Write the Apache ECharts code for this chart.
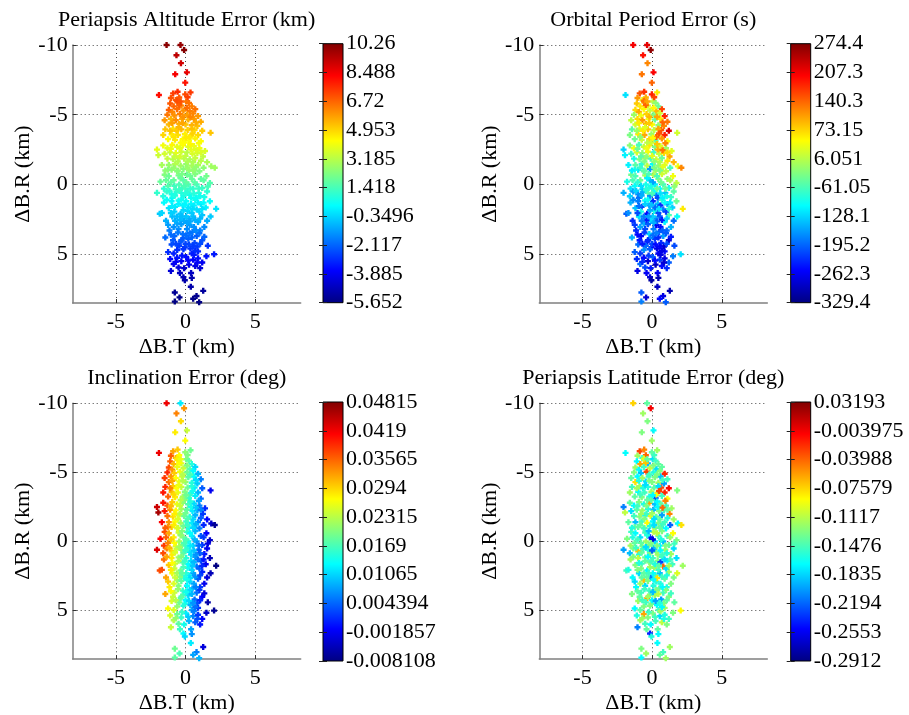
<!DOCTYPE html>
<html><head><meta charset="utf-8">
<script src="https://cdn.jsdelivr.net/npm/echarts@6/dist/echarts.min.js"></script>
<style>html,body{margin:0;padding:0;background:#fff}#c{width:909px;height:715px}</style>
</head><body><div id="c"></div>
<script>
// B-plane dispersion points (same sample set in all four panels)
const bT = [
-1.36,-0.36,-0.1,-0.65,-0.33,0.1,-0.74,-0.02,-1.91,-0.89,
-0.57,-0.02,0.36,-0.45,-1.05,-0.7,-1.1,-0.55,0.05,0.25,
-0.85,-0.3,0.45,-1.2,-0.95,-0.6,-0.15,0.3,0.7,-1.3,
-0.8,-0.4,0.1,0.55,0.9,-1.5,-1.05,-0.7,-0.25,0.2,
0.6,1.1,-1.2,-0.45,0.0,0.45,0.85,-1.45,-0.9,-0.3,
0.15,0.65,1.2,1.8,-1.6,-1.0,-0.55,-0.05,0.4,0.9,
-1.25,-0.75,-0.2,0.25,0.7,1.1,-2.05,-1.95,-1.6,-1.3,
-0.95,-0.6,-0.2,0.2,0.6,1.0,1.4,-1.5,-1.1,-0.7,
-0.3,0.1,0.5,0.85,1.25,-1.3,-0.9,-0.5,-0.1,0.3,
0.7,1.1,1.55,1.85,-1.7,-1.2,-0.75,-0.35,0.05,0.45,
0.9,1.3,-1.0,-0.55,-0.15,0.25,0.65,2.1,-2.05,-1.8,
-1.5,-1.55,-1.2,-1.25,-1.0,-0.85,-0.7,-0.5,-0.45,-0.3,
-0.15,0.0,0.1,0.2,0.3,0.45,0.55,0.7,0.8,0.95,
1.1,1.2,1.5,1.55,1.75,-0.95,-0.6,0.4,-1.6,-0.25,
0.65,-0.8,0.05,1.35,-1.85,-1.55,-1.4,-1.2,-1.0,-0.95,
-0.75,-0.6,-0.5,-0.35,-0.2,-0.1,0.05,0.15,0.3,0.4,
0.55,0.7,0.8,0.9,1.1,1.2,1.45,1.55,1.75,2.2,
1.8,-1.7,-0.4,0.25,-0.8,1.0,-1.45,-1.15,-1.0,-0.8,
-0.6,-0.5,-0.35,-0.2,-0.05,0.1,0.2,0.35,0.5,0.65,
0.8,0.9,1.05,1.2,1.35,1.6,-1.25,-0.85,0.45,1.35,
-1.1,-0.85,-1.05,-0.6,-0.5,-0.3,-0.1,0.05,0.25,0.4,
0.55,0.7,0.9,1.05,1.2,2.05,-0.15,0.45,1.5,-0.4,
-0.77,-0.43,0.38,1.27,0.79,0.55,0.98,-0.77,-0.05,-0.4,
0.0,0.4,-0.85,0.15,0.55,-0.35,0.35,-0.65,0.15,0.95,
-1.05,-0.15,0.6,-0.5,0.2,0.6,-0.15,0.45,-0.6,0.05,
0.7,-0.3,0.6,-0.15,0.45,0.0,0.85,-0.45,0.25,-0.25,
0.6,-0.65,-0.05,0.45,-0.85,0.1,-0.45,-0.2,0.75,-1.25,
1.0,-1.35,1.3,-1.25,1.0,-0.9,0.3,-1.4,1.6,-0.1,
-0.95,0.35,-0.5,0.75,-1.1,0.05,-0.35,0.95,-1.05,-0.4,
0.35,1.1,-0.8,0.15,0.75,-0.55,-1.45,-0.25,0.55,1.3,
-1.15,-0.45,0.35,1.05,-0.75,0.0,0.75,-1.35,-0.3,0.5,
1.2,-0.95,-0.05,0.9,-1.05,-0.25,0.35,1.05,-0.75,0.1,
-0.55,0.3,0.75,-1.05,0.05,-0.3,0.55,1.05,-0.7,-0.15,
0.7,-0.85,0.2,-0.7,0.85,-0.2,0.5,-0.6,0.15,-0.35
];
const bR = [
-10.0,-10.0,-9.64,-9.27,-8.7,-8.04,-7.9,-7.3,-6.41,-6.53,
-6.65,-6.46,-6.6,-6.24,-6.2,-6.05,-5.8,-5.9,-5.95,-5.85,
-5.6,-5.65,-5.6,-5.35,-5.2,-5.4,-5.3,-5.25,-5.4,-5.0,
-4.95,-5.05,-5.0,-5.1,-4.9,-4.6,-4.7,-4.6,-4.7,-4.65,
-4.7,-4.5,-4.3,-4.35,-4.3,-4.25,-4.2,-3.95,-4.0,-3.95,
-3.9,-3.9,-3.85,-3.7,-3.55,-3.6,-3.55,-3.6,-3.5,-3.55,
-3.25,-3.2,-3.25,-3.15,-3.3,-3.1,-2.5,-2.1,-2.8,-2.6,
-2.85,-2.7,-2.8,-2.7,-2.75,-2.6,-2.4,-2.2,-2.3,-2.25,
-2.35,-2.3,-2.2,-2.25,-2.0,-1.85,-1.8,-1.9,-1.85,-1.8,
-1.9,-1.7,-1.6,-1.3,-1.4,-1.4,-1.45,-1.35,-1.45,-1.35,
-1.4,-1.2,-1.05,-1.0,-1.1,-1.0,-1.05,-1.2,0.6,-0.2,
-0.7,0.3,-0.6,0.1,0.7,-0.3,0.35,-0.65,0.0,0.6,
-0.3,0.3,-0.7,0.0,0.75,-0.4,0.3,-0.75,0.0,0.6,
-0.4,0.25,-0.6,0.5,-0.1,0.95,-0.95,0.95,0.85,0.25,
-0.15,0.1,-0.15,0.9,2.1,1.3,2.6,1.7,1.2,2.3,
1.6,2.8,1.15,2.1,1.5,2.6,1.2,1.9,2.9,1.4,
2.3,1.1,1.8,2.7,1.4,2.2,1.65,2.6,1.2,1.75,
2.3,2.05,2.55,2.45,1.95,1.95,3.8,3.3,4.3,3.7,
4.7,3.2,4.1,3.55,4.5,3.2,3.9,4.6,3.4,4.2,
3.7,4.8,3.3,4.0,3.75,4.4,4.85,3.05,4.95,3.05,
5.35,5.7,6.2,5.25,5.95,5.5,6.0,5.2,5.75,6.35,
5.4,5.85,5.3,6.0,5.6,5.0,6.65,6.7,5.15,6.35,
7.75,8.1,7.34,7.63,8.0,8.2,8.45,8.4,6.87,-2.0,
-2.05,-2.5,-1.2,-1.2,-1.6,-0.45,-0.6,0.55,0.5,0.3,
-0.15,0.85,0.65,1.4,1.65,1.5,1.85,2.05,2.3,2.3,
2.55,2.85,3.05,3.85,3.8,4.25,4.45,4.4,4.3,5.1,
5.05,-3.85,-3.0,-4.0,-3.4,-5.5,-5.7,-4.85,-2.45,-1.05,
-0.95,0.5,1.3,2.9,3.5,4.0,-3.4,-0.3,0.15,0.1,
-4.4,-4.85,-4.1,-4.45,-3.85,-3.35,-3.0,-2.95,-2.55,-2.6,
-2.9,-2.3,-2.0,-1.65,-1.25,-1.65,-1.0,-0.75,-1.0,-0.3,
0.45,0.4,0.3,0.85,0.8,0.65,0.95,1.1,1.1,1.75,
1.75,1.55,1.45,1.3,2.05,2.3,2.65,2.45,2.6,2.75,
3.45,3.5,3.3,3.6,3.65,4.0,4.45,4.25,4.25,4.65,
4.75,4.95,5.45,5.55,5.6,-4.4,-3.65,-6.0,-6.25,-5.95
];
// Periapsis altitude error (km)
const altErr = [
10.1,9.9,10.2,9.3,9.0,8.6,8.4,8.0,8.1,7.3,
7.6,7.1,7.4,6.9,7.0,6.8,6.9,6.6,6.4,6.5,
6.7,6.1,6.3,6.8,6.2,6.6,6.0,6.3,6.5,6.4,
6.0,6.3,5.8,6.2,5.9,5.9,5.5,6.1,5.7,5.5,
5.9,5.6,5.4,5.6,5.2,5.5,5.3,5.2,4.8,5.4,
5.0,4.9,5.1,5.2,4.9,4.6,4.8,4.5,4.7,4.9,
4.3,4.6,4.4,4.2,4.5,4.3,3.9,3.5,4.1,3.8,
4.4,3.9,4.3,3.8,4.0,4.1,3.7,3.6,3.4,3.9,
3.5,3.2,3.7,3.6,3.3,3.4,3.1,3.5,3.2,3.0,
3.4,3.2,3.0,2.8,2.9,2.7,3.1,2.8,2.6,2.9,
3.0,2.5,2.5,2.7,2.4,2.6,2.3,2.8,1.1,1.9,
2.3,1.0,2.0,1.6,0.7,1.9,1.3,2.1,1.5,0.8,
1.6,1.3,2.0,1.5,0.6,1.9,1.1,2.3,1.4,0.9,
1.8,1.2,2.1,1.0,1.6,0.6,2.4,0.5,0.8,1.2,
1.7,1.3,1.8,0.7,-0.5,0.3,-0.9,-0.1,0.2,-0.7,
0.0,-1.1,0.5,-0.6,0.1,-1.0,0.4,-0.3,-1.3,0.2,
-0.7,0.6,-0.2,-1.0,0.0,-0.6,0.1,-1.0,0.4,-0.1,
-0.5,-0.3,-0.8,-0.9,-0.4,-0.3,-2.0,-1.7,-2.5,-2.1,
-3.0,-1.4,-2.4,-1.9,-2.8,-1.5,-2.2,-2.9,-1.8,-2.6,
-2.2,-3.1,-1.6,-2.4,-2.1,-2.9,-3.0,-1.4,-3.2,-1.5,
-3.6,-3.9,-4.3,-3.4,-4.2,-3.8,-4.4,-3.5,-4.0,-4.6,
-3.7,-4.1,-3.5,-4.3,-3.9,-3.3,-4.8,-4.9,-3.4,-4.6,
-5.3,-5.5,-5.0,-5.2,-5.4,-5.5,-5.6,-5.6,-5.0,3.6,
3.3,3.9,2.6,2.7,3.0,1.9,2.0,1.0,1.0,1.2,
1.7,0.7,0.9,0.2,-0.1,0.1,-0.3,-0.5,-0.7,-0.6,
-0.9,-1.2,-1.4,-2.2,-2.1,-2.6,-2.8,-2.7,-2.6,-3.4,
-3.3,5.1,4.3,5.3,4.7,6.6,6.8,6.0,3.8,2.4,
2.3,1.1,0.3,-1.2,-1.9,-2.3,4.6,1.9,1.4,1.5,
5.8,6.2,5.4,5.6,5.2,4.6,4.3,4.2,4.0,3.9,
4.4,3.7,3.4,3.0,2.6,3.1,2.5,2.2,2.6,1.8,
1.0,1.2,1.1,0.6,0.8,0.9,0.5,0.4,0.5,-0.2,
-0.1,0.1,0.2,0.2,-0.4,-0.7,-1.0,-0.8,-0.9,-1.1,
-1.8,-1.9,-1.6,-2.0,-2.0,-2.3,-2.8,-2.5,-2.6,-2.9,
-3.0,-3.2,-3.7,-3.8,-3.8,5.7,5.0,7.1,7.3,7.0
];
// Orbital period error (s)
const perErr = [
205,215,265,190,120,200,130,140,-120,150,
170,180,60,95,110,40,80,120,10,-20,
60,30,-40,70,100,50,15,90,160,-10,
40,75,-30,20,180,10,70,110,40,-40,
60,130,20,90,50,-20,120,-50,30,80,
10,150,220,20,-30,60,100,-10,40,180,
-40,20,70,-50,110,50,-130,-110,-20,40,
-60,10,60,-30,30,-10,30,-70,20,-20,
40,-70,10,70,100,-90,-30,0,-60,20,
-40,60,90,40,-110,-50,-80,10,-100,-20,
30,-60,-120,-40,-160,-10,-70,120,-150,-90,
-40,-120,-60,-100,-170,-40,-130,-10,-90,-50,
-140,-70,0,-110,-180,-30,-100,20,-60,-140,
-20,-90,40,-50,10,-190,-50,-210,-130,-80,
-40,-120,-160,-70,-200,-150,-230,-140,-180,-120,
-210,-150,-100,-250,-160,-120,-230,-90,-260,-140,
-200,-70,-180,-110,-150,-60,-130,-190,-40,60,
-100,-170,-240,-170,-90,-220,-150,-230,-190,-260,
-170,-210,-240,-130,-250,-180,-220,-270,-200,-230,
-160,-250,-190,-280,-240,-210,-200,-160,-260,-150,
-230,-190,-270,-250,-210,-280,-240,-200,-290,-260,
-220,-250,-270,-230,-200,-120,-280,-300,-180,-260,
-200,-280,-290,-300,-270,-250,-200,-180,-310,-20,
30,90,-70,-30,0,-110,-60,-150,-100,-40,
-80,-170,-120,-130,-190,-230,-150,-210,-180,-130,
-240,-200,-250,-170,-230,-210,-280,-190,-250,-220,
-270,60,20,100,-20,50,140,90,130,-90,
10,-160,-110,-220,-200,-240,140,-60,-20,-90,
60,100,30,140,-10,50,10,120,-40,40,
80,70,-50,-20,30,-30,-110,-60,-30,0,
-130,-80,-40,-90,-150,-60,-110,-170,-100,-120,
-80,-190,-140,-100,-210,-160,-200,-130,-180,-150,
-220,-180,-200,-250,-190,-230,-260,-210,-240,-200,
-270,-220,-250,-230,-280,80,150,130,160,100
];
// Inclination error (deg)
const incErr = [
0.042,0.012,0.033,0.034,0.029,0.024,0.028,0.027,0.042,0.032,
0.030,0.021,0.019,0.027,0.036,0.031,0.036,0.028,0.020,0.018,
0.031,0.025,0.015,0.037,0.033,0.026,0.024,0.017,0.011,0.039,
0.030,0.026,0.019,0.013,0.009,0.038,0.033,0.027,0.024,0.018,
0.013,0.006,0.035,0.026,0.021,0.015,0.010,0.039,0.030,0.024,
0.019,0.012,0.004,-0.002,0.040,0.031,0.026,0.020,0.014,0.009,
0.036,0.028,0.022,0.016,0.012,0.005,0.044,0.046,0.040,0.036,
0.030,0.026,0.021,0.017,0.011,0.006,0.001,0.040,0.033,0.027,
0.022,0.018,0.012,0.008,0.002,0.035,0.029,0.025,0.019,0.015,
0.009,0.004,-0.001,-0.004,0.041,0.033,0.027,0.022,0.016,0.012,
0.006,0.001,0.030,0.024,0.019,0.014,0.009,-0.007,0.043,0.041,
0.037,0.038,0.032,0.034,0.029,0.028,0.025,0.024,0.022,0.020,
0.019,0.016,0.016,0.014,0.012,0.012,0.010,0.009,0.007,0.004,
0.004,0.002,-0.001,-0.002,-0.004,0.028,0.025,0.011,0.037,0.019,
0.009,0.027,0.017,0.000,0.037,0.035,0.032,0.030,0.028,0.026,
0.024,0.021,0.022,0.019,0.018,0.015,0.015,0.014,0.011,0.011,
0.008,0.008,0.005,0.004,0.003,0.001,-0.002,-0.003,-0.005,-0.008,
-0.005,0.037,0.020,0.012,0.024,0.004,0.032,0.028,0.025,0.024,
0.021,0.020,0.018,0.016,0.014,0.013,0.011,0.009,0.008,0.005,
0.005,0.002,0.002,-0.001,-0.003,-0.006,0.027,0.025,0.008,-0.002,
0.025,0.023,0.024,0.019,0.018,0.016,0.014,0.012,0.009,0.008,
0.006,0.004,0.002,0.000,-0.001,-0.007,0.013,0.007,-0.004,0.016,
0.019,0.017,0.012,-0.003,0.006,0.008,0.009,0.018,0.011,0.023,
0.019,0.014,0.028,0.016,0.011,0.021,0.013,0.024,0.015,0.005,
0.030,0.018,0.010,0.022,0.013,0.009,0.017,0.011,0.022,0.015,
0.007,0.018,0.008,0.016,0.009,0.013,0.003,0.019,0.011,0.016,
0.006,0.027,0.020,0.015,0.029,0.020,0.027,0.023,0.010,0.033,
0.006,0.034,0.000,0.030,0.002,0.024,0.016,0.036,-0.003,0.017,
0.032,0.017,0.026,0.011,0.034,0.019,0.023,0.008,0.031,0.024,
0.015,0.006,0.028,0.017,0.009,0.025,0.036,0.020,0.011,0.002,
0.031,0.022,0.012,0.004,0.025,0.016,0.007,0.032,0.020,0.010,
0.001,0.027,0.016,0.005,0.028,0.018,0.011,0.003,0.024,0.014,
0.021,0.011,0.006,0.027,0.014,0.018,0.007,0.001,0.023,0.015,
0.005,0.025,0.010,0.021,0.003,0.023,0.014,0.028,0.020,0.026
];
// Periapsis latitude error (deg)
const latErr = [
-0.075,-0.14,-0.005,-0.12,-0.13,-0.17,-0.13,-0.12,-0.17,-0.03,
-0.05,-0.14,-0.12,-0.04,-0.12,-0.16,-0.17,-0.13,-0.18,-0.15,
-0.06,-0.19,-0.14,-0.12,-0.17,-0.15,-0.11,-0.18,-0.14,-0.13,
-0.19,-0.03,-0.16,-0.13,-0.02,-0.14,-0.17,-0.12,-0.15,-0.13,
-0.19,-0.15,-0.08,-0.18,-0.13,-0.12,-0.20,-0.15,-0.12,-0.16,
-0.14,-0.03,-0.01,-0.13,-0.12,-0.17,-0.15,-0.12,-0.19,-0.02,
-0.14,-0.13,-0.16,-0.23,-0.15,-0.09,-0.21,-0.11,-0.14,-0.17,
-0.13,-0.16,-0.06,-0.19,-0.14,-0.15,-0.12,-0.18,-0.14,-0.12,
-0.16,-0.19,-0.13,-0.15,-0.05,-0.15,-0.13,-0.17,-0.10,-0.14,
-0.20,-0.16,-0.12,-0.17,-0.14,-0.19,-0.15,-0.09,-0.17,-0.13,
-0.15,-0.22,-0.14,-0.12,-0.16,-0.13,-0.18,-0.08,-0.20,-0.13,
-0.15,-0.12,-0.17,-0.14,-0.07,-0.18,-0.13,-0.15,-0.12,-0.16,
-0.25,-0.14,-0.11,-0.18,-0.13,-0.15,-0.17,-0.13,-0.19,-0.12,
-0.15,-0.14,-0.09,-0.18,-0.13,-0.16,-0.15,-0.12,-0.19,-0.13,
-0.16,-0.14,-0.26,-0.12,-0.15,-0.12,-0.17,-0.13,-0.11,-0.18,
-0.15,-0.07,-0.14,-0.17,-0.13,-0.21,-0.15,-0.12,-0.16,-0.13,
-0.19,-0.15,-0.04,-0.14,-0.17,-0.12,-0.15,-0.13,-0.18,-0.12,
-0.10,-0.16,-0.14,-0.15,-0.13,-0.18,-0.13,-0.17,-0.12,-0.15,
-0.13,-0.18,-0.06,-0.15,-0.14,-0.16,-0.12,-0.17,-0.14,-0.20,
-0.15,-0.12,-0.16,-0.13,-0.15,-0.14,-0.17,-0.12,-0.15,-0.13,
-0.16,-0.12,-0.21,-0.06,-0.15,-0.13,-0.17,-0.13,-0.15,-0.14,
-0.18,-0.11,-0.16,-0.13,-0.15,-0.09,-0.24,-0.17,-0.13,-0.14,
-0.13,-0.12,-0.17,-0.12,-0.15,-0.14,-0.12,-0.17,-0.16,-0.15,
-0.12,-0.17,-0.14,-0.18,-0.14,-0.16,-0.11,-0.15,-0.19,-0.13,
-0.15,-0.13,-0.17,-0.14,-0.16,-0.23,-0.12,-0.15,-0.14,-0.17,
-0.15,-0.13,-0.16,-0.14,-0.11,-0.17,-0.13,-0.15,-0.20,-0.15,
-0.12,-0.16,-0.14,-0.18,-0.15,-0.13,-0.07,-0.15,-0.04,-0.14,
-0.17,-0.13,-0.15,-0.18,-0.13,-0.14,-0.09,-0.16,-0.15,-0.13,
-0.16,-0.13,-0.18,-0.15,-0.12,-0.17,-0.14,-0.05,-0.15,-0.13,
-0.17,-0.14,-0.12,-0.18,-0.15,-0.13,-0.16,-0.19,-0.14,-0.12,
-0.15,-0.18,-0.13,-0.16,-0.14,-0.22,-0.15,-0.13,-0.17,-0.14,
-0.12,-0.16,-0.15,-0.18,-0.13,-0.15,-0.08,-0.16,-0.14,-0.17,
-0.15,-0.13,-0.17,-0.14,-0.19,-0.12,-0.16,-0.14,-0.15,-0.13,
-0.17,-0.14,-0.15,-0.12,-0.16,-0.13,-0.03,-0.10,-0.15,-0.14
];
// Axis tick values
const bTTicks = [-5, 0, 5];
const bRTicks = [-10, -5, 0, 5];
// Colorbar tick labels (bottom to top)
const cbAlt = ['-5.652','-3.885','-2.117','-0.3496','1.418','3.185','4.953','6.72','8.488','10.26'];
const cbPer = ['-329.4','-262.3','-195.2','-128.1','-61.05','6.051','73.15','140.3','207.3','274.4'];
const cbInc = ['-0.008108','-0.001857','0.004394','0.01065','0.0169','0.02315','0.0294','0.03565','0.0419','0.04815'];
const cbLat = ['-0.2912','-0.2553','-0.2194','-0.1835','-0.1476','-0.1117','-0.07579','-0.03988','-0.003975','0.03193'];
const titles = ['Periapsis Altitude Error (km)','Orbital Period Error (s)','Inclination Error (deg)','Periapsis Latitude Error (deg)'];

const JET = ['#000080','#0000ff','#0080ff','#00ffff','#80ff80','#ffff00','#ff8000','#ff0000','#800000'];
const FONT = "'Liberation Serif','Times New Roman',serif";
const PLUS = 'path://M1.5,0h2v1.5h1.5v2h-1.5v1.5h-2v-1.5h-1.5v-2h1.5z';
const PW = 228, PH = 258, CBW = 20;
const layout = [
  {gx: 72.7, gy: 45, cbx: 323},
  {gx: 539.3, gy: 45, cbx: 790.7},
  {gx: 72.7, gy: 403.3, cbx: 323},
  {gx: 539.3, gy: 403.3, cbx: 790.7}
];
const valueSets = [altErr, perErr, incErr, latErr];
const cbSets = [cbAlt, cbPer, cbInc, cbLat];

const chart = echarts.init(document.getElementById('c'), null, {renderer: 'canvas'});
const grid = [], xAxis = [], yAxis = [], series = [], visualMap = [], graphic = [];
const txt = {fontFamily: FONT, fontSize: 22, color: '#000'};

layout.forEach((L, i) => {
  const vals = valueSets[i], cb = cbSets[i];
  const gi = grid.length;
  grid.push({left: L.gx, top: L.gy, width: PW, height: PH});
  const xi = xAxis.length;
  xAxis.push({
    gridIndex: gi, type: 'value', min: -8.1, max: 8.27,
    name: 'ΔB.T (km)', nameLocation: 'middle', nameGap: 33, nameTextStyle: txt,
    axisLine: {show: true, onZero: false, lineStyle: {color: '#808080', width: 1.5}},
    axisTick: {show: true, inside: true, length: 4, customValues: bTTicks, lineStyle: {color: '#333'}},
    axisLabel: Object.assign({customValues: bTTicks, margin: 8}, txt),
    splitLine: {show: true, lineStyle: {type: [1, 3], color: '#444', width: 1}}
  });
  const yi = yAxis.length;
  yAxis.push({
    gridIndex: gi, type: 'value', min: -10, max: 8.5, interval: 5, inverse: true,
    name: 'ΔB.R (km)', nameLocation: 'middle', nameGap: 37, nameTextStyle: txt,
    axisLine: {show: true, onZero: false, lineStyle: {color: '#808080', width: 1.5}},
    axisTick: {show: true, inside: true, length: 4, customValues: bRTicks, lineStyle: {color: '#333'}},
    axisLabel: Object.assign({customValues: bRTicks, margin: 5}, txt),
    splitLine: {show: true, lineStyle: {type: [1, 3], color: '#444', width: 1}}
  });
  const si = series.length;
  series.push({
    type: 'scatter', xAxisIndex: xi, yAxisIndex: yi, symbol: PLUS, symbolSize: 6,
    clip: false, silent: true, itemStyle: {opacity: 1},
    data: bT.map((x, k) => [x, bR[k], vals[k]])
  });
  visualMap.push({type: 'continuous', show: false, seriesIndex: si, dimension: 2,
    min: parseFloat(cb[0]), max: parseFloat(cb[cb.length - 1]), inRange: {color: JET}});

  const cgi = grid.length;
  grid.push({left: L.cbx, top: L.gy - 1.3, width: CBW, height: PH + 1});
  const cxi = xAxis.length;
  xAxis.push({gridIndex: cgi, type: 'value', min: 0, max: 1, show: false});
  const cyi = yAxis.length;
  yAxis.push({
    gridIndex: cgi, type: 'value', min: 0, max: cb.length - 1, interval: 1, position: 'right', z: 5,
    axisLine: {show: false}, splitLine: {show: false},
    axisTick: {show: true, inside: true, length: 4, lineStyle: {color: '#222'}},
    axisLabel: Object.assign({margin: 3, formatter: v => cb[Math.round(v)]}, txt)
  });
  yAxis.push({
    gridIndex: cgi, type: 'value', min: 0, max: cb.length - 1, interval: 1, position: 'left', z: 5,
    axisLine: {show: false}, splitLine: {show: false}, axisLabel: {show: false},
    axisTick: {show: true, inside: true, length: 4, lineStyle: {color: '#222'}}
  });
  series.push({
    type: 'custom', xAxisIndex: cxi, yAxisIndex: cyi, silent: true, z: 0,
    data: [[0, 0, 1, cb.length - 1]],
    renderItem: (params, api) => {
      const a = api.coord([api.value(0), api.value(1)]);
      const b = api.coord([api.value(2), api.value(3)]);
      return {
        type: 'rect',
        shape: {x: a[0], y: b[1], width: b[0] - a[0], height: a[1] - b[1]},
        style: {
          fill: new echarts.graphic.LinearGradient(0, 1, 0, 0, JET.map((c, k) => ({offset: k / (JET.length - 1), color: c}))),
          stroke: '#000', lineWidth: 1
        }
      };
    }
  });

  graphic.push({
    type: 'text', x: L.gx + PW / 2, y: L.gy - 25,
    style: {text: titles[i], fontFamily: FONT, fontSize: 22, fill: '#000', align: 'center', verticalAlign: 'middle'}
  });
});

chart.setOption({
  backgroundColor: '#fff', animation: false,
  grid, xAxis, yAxis, series, visualMap, graphic
});
</script>
</body></html>
